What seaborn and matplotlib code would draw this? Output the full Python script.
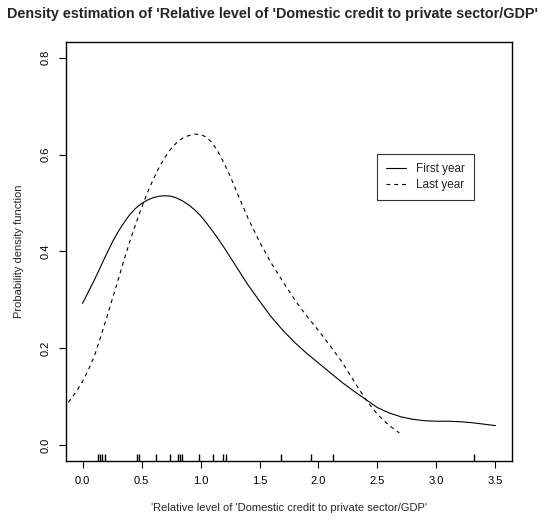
import matplotlib
matplotlib.use('Agg')
import matplotlib.pyplot as plt
import seaborn as sns
import pandas as pd

# density curves
first_x = [0.0, 0.05, 0.1, 0.15, 0.2, 0.25, 0.3, 0.35, 0.4, 0.45, 0.5, 0.55, 0.6, 0.65,
           0.7, 0.75, 0.8, 0.85, 0.9, 0.95, 1.0, 1.05, 1.1, 1.15, 1.2, 1.3, 1.4,
           1.5, 1.6, 1.7, 1.8, 1.9, 2.0, 2.1, 2.2, 2.3, 2.4, 2.5, 2.6, 2.7, 2.8, 2.9,
           3.0, 3.1, 3.2, 3.3, 3.4, 3.5]
first_y = [0.293, 0.317, 0.341, 0.367, 0.393, 0.418, 0.440, 0.459, 0.476, 0.489, 0.499,
           0.506, 0.511, 0.514, 0.515, 0.514, 0.510, 0.504, 0.496, 0.486, 0.474,
           0.459, 0.443, 0.426, 0.408, 0.370, 0.332, 0.298, 0.265, 0.237, 0.212, 0.190,
           0.170, 0.150, 0.130, 0.112, 0.095, 0.078, 0.067, 0.059, 0.054, 0.051, 0.050,
           0.050, 0.049, 0.047, 0.044, 0.041]

last_x = [-0.12, -0.05, 0.0, 0.05, 0.1, 0.15, 0.2, 0.25, 0.3, 0.35, 0.4, 0.45, 0.5, 0.55,
          0.6, 0.65, 0.7, 0.75, 0.8, 0.85, 0.9, 0.95, 1.0, 1.05, 1.1, 1.15, 1.2, 1.25,
          1.3, 1.4, 1.5, 1.6, 1.7, 1.8, 1.9, 2.0, 2.1, 2.2, 2.3, 2.4, 2.5, 2.6, 2.685]
last_y = [0.089, 0.112, 0.132, 0.156, 0.184, 0.221, 0.260, 0.300, 0.340, 0.381, 0.420,
          0.456, 0.490, 0.521, 0.549, 0.574, 0.595, 0.612, 0.625, 0.634, 0.639, 0.642,
          0.641, 0.636, 0.624, 0.605, 0.582, 0.556, 0.527, 0.470, 0.420, 0.376, 0.337,
          0.300, 0.267, 0.237, 0.205, 0.172, 0.133, 0.095, 0.064, 0.041, 0.026]

rug_values = [0.133, 0.148, 0.165, 0.193, 0.459, 0.476, 0.623, 0.742, 0.810, 0.827,
              0.841, 0.986, 1.102, 1.193, 1.215, 1.686, 1.937, 2.124, 3.317]

x_ticks = [0.0, 0.5, 1.0, 1.5, 2.0, 2.5, 3.0, 3.5]
y_ticks = [0.0, 0.2, 0.4, 0.6, 0.8]

sns.set_style('white')
plt.rcParams['font.family'] = ['Liberation Sans', 'DejaVu Sans']

first = pd.DataFrame({'x': first_x, 'y': first_y})
last = pd.DataFrame({'x': last_x, 'y': last_y})

fig = plt.figure(figsize=(5.45, 5.23), dpi=100)
ax = fig.add_axes([66 / 545, 62 / 523, 446 / 545, 419 / 523])

sns.lineplot(data=first, x='x', y='y', ax=ax, color='black', lw=0.8,
             label='First year', sort=False)
sns.lineplot(data=last, x='x', y='y', ax=ax, color='black', lw=0.8,
             label='Last year', sort=False, dashes=False)
ax.lines[1].set_dashes((3.5, 3.5))
sns.rugplot(x=rug_values, ax=ax, height=0.016, color='black', lw=0.8)

ax.set_xlim(-0.14, 3.64)
ax.set_ylim(-0.032, 0.832)
ax.set_xticks(x_ticks)
ax.set_xticklabels([f'{t:.1f}' for t in x_ticks])
ax.set_yticks(y_ticks)
ax.set_yticklabels([f'{t:.1f}' for t in y_ticks], rotation=90, va='center')
ax.tick_params(direction='out', length=5, width=0.8, labelsize=8, pad=6,
               left=True, bottom=True, colors='black')
for s in ax.spines.values():
    s.set_color('black')
    s.set_linewidth(1.0)

ax.set_xlabel("'Relative level of 'Domestic credit to private sector/GDP'", fontsize=8, labelpad=12)
ax.set_ylabel('Probability density function', fontsize=8, labelpad=12)
fig.text(0.5, 1 - 14 / 523, "Density estimation of 'Relative level of 'Domestic credit to private sector/GDP'",
         ha='center', va='center', fontsize=10.4, fontweight='bold')

leg = ax.legend(loc='upper left', bbox_to_anchor=((377 - 66) / 446, (461 - 154) / 419),
                fontsize=8.5, frameon=True, fancybox=False, handlelength=1.7,
                borderpad=0.75, labelspacing=0.35, handletextpad=0.85, borderaxespad=0)
leg.get_frame().set_edgecolor('black')
leg.get_frame().set_linewidth(0.8)

fig.savefig('out.png', dpi=100)
